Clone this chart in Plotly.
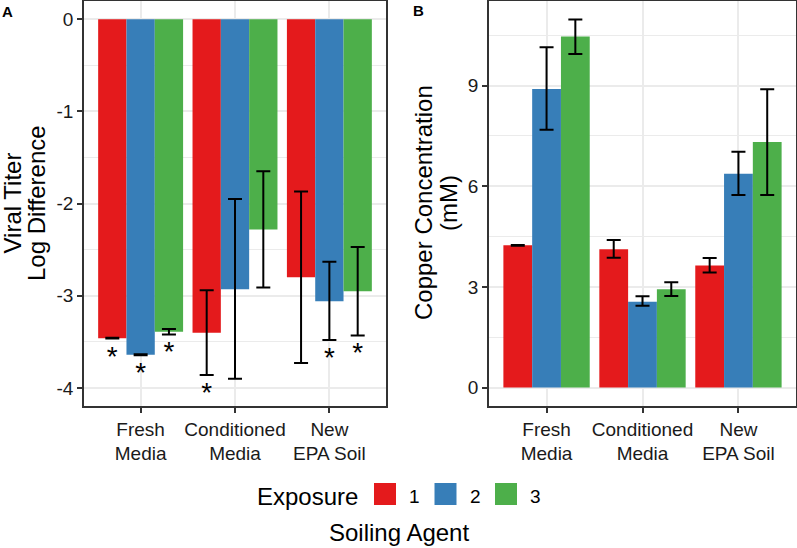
import plotly.graph_objects as go

# ---------------- data ----------------
agents = ["Fresh Media", "Conditioned Media", "New EPA Soil"]
tick_labels = ["Fresh<br>Media", "Conditioned<br>Media", "New<br>EPA Soil"]
exposures = ["1", "2", "3"]
colors = ["#E41A1C", "#377EB8", "#4DAF4A"]

titer_ticks = [0, -1, -2, -3, -4]
titer_tick_labels = ["0", "-1", "-2", "-3", "-4"]
copper_ticks = [0, 3, 6, 9]
copper_tick_labels = ["0", "3", "6", "9"]

# Panel A: viral titer log difference (mean, upper, lower)
titer_1 = [-3.46, -3.40, -2.80]
titer_1_hi = [-3.455, -2.94, -1.87]
titer_1_lo = [-3.465, -3.86, -3.73]
titer_2 = [-3.64, -2.93, -3.06]
titer_2_hi = [-3.635, -1.95, -2.63]
titer_2_lo = [-3.645, -3.90, -3.48]
titer_3 = [-3.39, -2.28, -2.95]
titer_3_hi = [-3.36, -1.65, -2.47]
titer_3_lo = [-3.42, -2.91, -3.43]
sig_1 = [True, True, False]
sig_2 = [True, False, True]
sig_3 = [True, False, True]

# Panel B: copper concentration (mM)
copper_1 = [4.24, 4.12, 3.64]
copper_1_hi = [4.25, 4.40, 3.86]
copper_1_lo = [4.23, 3.87, 3.43]
copper_2 = [8.90, 2.56, 6.37]
copper_2_hi = [10.14, 2.72, 7.03]
copper_2_lo = [7.68, 2.44, 5.74]
copper_3 = [10.46, 2.93, 7.32]
copper_3_hi = [10.97, 3.14, 8.89]
copper_3_lo = [9.94, 2.73, 5.74]

titer = [(titer_1, titer_1_hi, titer_1_lo, sig_1),
         (titer_2, titer_2_hi, titer_2_lo, sig_2),
         (titer_3, titer_3_hi, titer_3_lo, sig_3)]
copper = [(copper_1, copper_1_hi, copper_1_lo),
          (copper_2, copper_2_hi, copper_2_lo),
          (copper_3, copper_3_hi, copper_3_lo)]

W, H = 797, 548
FONT = "Liberation Sans, Arial, sans-serif"
TXT = "#1A1A1A"
GRID = "#EBEBEB"
BORDER = "#333333"

fig = go.Figure()

for i in range(3):
    m, hi, lo, sig = titer[i]
    fig.add_trace(go.Bar(
        x=agents, y=m, xaxis="x", yaxis="y", offsetgroup=str(i),
        marker=dict(color=colors[i], line=dict(width=0)),
        error_y=dict(type="data", symmetric=False,
                     array=[h - v for h, v in zip(hi, m)],
                     arrayminus=[v - l for v, l in zip(m, lo)],
                     color="black", thickness=2, width=7),
        showlegend=False, hoverinfo="skip"))
    fig.add_trace(go.Scatter(
        x=agents, y=lo, xaxis="x", yaxis="y", offsetgroup=str(i),
        mode="markers+text", text=["*" if s else "" for s in sig],
        marker=dict(size=8, color="rgba(0,0,0,0)"),
        textposition="bottom center",
        textfont=dict(size=28, color="black", family=FONT),
        showlegend=False, hoverinfo="skip"))

for i in range(3):
    m, hi, lo = copper[i]
    fig.add_trace(go.Bar(
        x=agents, y=m, xaxis="x2", yaxis="y2", offsetgroup=str(i),
        marker=dict(color=colors[i], line=dict(width=0)),
        error_y=dict(type="data", symmetric=False,
                     array=[h - v for h, v in zip(hi, m)],
                     arrayminus=[v - l for v, l in zip(m, lo)],
                     color="black", thickness=2, width=7),
        showlegend=False, hoverinfo="skip"))

ytop = 1 - 1 / H
ybot = 1 - 406 / H

common_x = dict(type="category", range=[-0.6, 2.6], tickvals=agents, ticktext=tick_labels,
                showgrid=True, gridcolor=GRID, gridwidth=2,
                ticks="outside", ticklen=5, tickwidth=1.5, tickcolor=BORDER,
                showline=True, mirror=True, linecolor=BORDER, linewidth=1.5,
                tickfont=dict(size=19, color=TXT, family=FONT), zeroline=False)
common_y = dict(showgrid=True, gridcolor=GRID, gridwidth=2, zeroline=False,
                ticks="outside", ticklen=5, tickwidth=1.5, tickcolor=BORDER,
                showline=True, mirror=True, linecolor=BORDER, linewidth=1.5,
                tickfont=dict(size=19, color=TXT, family=FONT))

fig.update_layout(
    width=W, height=H, autosize=False,
    margin=dict(l=0, r=0, t=0, b=0),
    paper_bgcolor="white", plot_bgcolor="white",
    barmode="group", bargap=0.1, bargroupgap=0,
    scattermode="group", scattergap=0.1,
    showlegend=False,
    font=dict(family=FONT, color=TXT),
    xaxis=dict(domain=[84 / W, 386 / W], anchor="y", **common_x),
    yaxis=dict(domain=[ybot, ytop], anchor="x", range=[-4.196, 0.198],
               tickvals=titer_ticks, ticktext=titer_tick_labels,
               minor=dict(dtick=0.5, tick0=0, showgrid=True, gridcolor=GRID, gridwidth=1),
               **common_y),
    xaxis2=dict(domain=[489 / W, 796 / W], anchor="y2", **common_x),
    yaxis2=dict(domain=[ybot, ytop], anchor="x2", range=[-0.548, 11.52],
                tickvals=copper_ticks, ticktext=copper_tick_labels,
                minor=dict(dtick=1.5, tick0=0, showgrid=True, gridcolor=GRID, gridwidth=1),
                **common_y),
)

ann = []
def add_text(text, x, y, size, angle=0, xanchor="center", bold=False):
    ann.append(dict(text=f"<b>{text}</b>" if bold else text, x=x / W, y=1 - y / H,
                    xref="paper", yref="paper", showarrow=False, borderpad=0,
                    xanchor=xanchor, yanchor="middle", textangle=angle,
                    font=dict(size=size, color="black", family=FONT)))

# y-axis titles (two lines each)
add_text("Viral Titer", 11.5, 203, 24, angle=-90)
add_text("Log Difference", 36, 203, 24, angle=-90)
add_text("Copper Concentration", 423, 203, 24, angle=-90)
add_text("(mM)", 448, 203, 24, angle=-90)
# x-axis title
add_text("Soiling Agent", 398.5, 532, 24)
# panel tags
add_text("A", 7, 11.5, 15, bold=True)
add_text("B", 419, 10, 15, bold=True)

# legend (drawn manually to match key size)
add_text("Exposure", 256, 496, 24, xanchor="left")
shapes = []
key0, step, ksz = 374, 60.5, 22
for i, (lab, col) in enumerate(zip(exposures, colors)):
    kx = key0 + i * step
    shapes.append(dict(type="rect", xref="paper", yref="paper",
                       x0=kx / W, x1=(kx + ksz) / W,
                       y0=1 - 505 / H, y1=1 - 483 / H,
                       fillcolor=col, line=dict(width=0)))
    add_text(lab, kx + ksz + 12, 496, 19, xanchor="left")

fig.update_layout(annotations=ann, shapes=shapes)
fig.write_html("out.html", config={"displayModeBar": False},
               post_script="document.body.style.margin='0px';document.body.style.overflow='hidden';")
